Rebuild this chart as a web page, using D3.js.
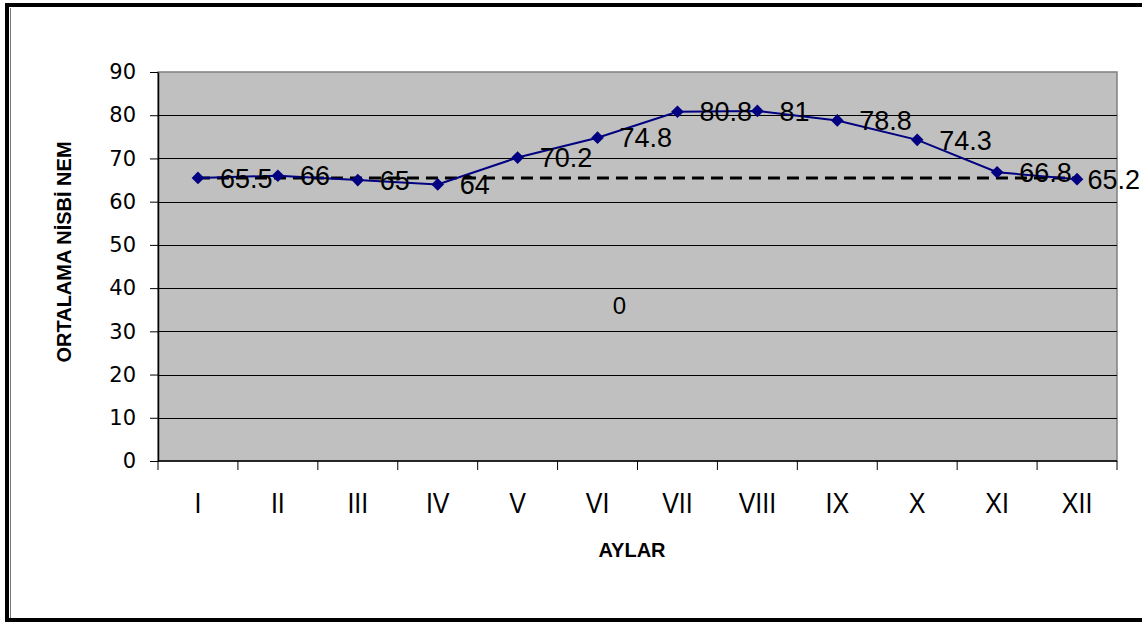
<!DOCTYPE html>
<html><head><meta charset="utf-8">
<script src="https://cdn.jsdelivr.net/npm/d3@7"></script>
<style>
html,body{margin:0;padding:0;background:#fff;}
svg{display:block;}
text{font-family:"Liberation Sans",Arial,sans-serif;}
</style></head>
<body>
<svg id="c" width="1142" height="622"></svg>
<script>
const months = ["I","II","III","IV","V","VI","VII","VIII","IX","X","XI","XII"];
const humidity = [65.5, 66, 65, 64, 70.2, 74.8, 80.8, 81, 78.8, 74.3, 66.8, 65.2];
const referenceLine = [65.5, 65.5, 65.5, 65.5, 65.5, 65.5, 65.5, 65.5, 65.5, 65.5, 65.5, 65.5];
const yTicks = [0, 10, 20, 30, 40, 50, 60, 70, 80, 90];
const xTitle = "AYLAR";
const yTitle = "ORTALAMA NİSBİ NEM";
const strayLabel = {month: "VI", value: 36, text: "0"};

const svg = d3.select("#c");
const W = 1142, H = 622;
const m = {left: 158, right: 25, top: 72, bottom: 161};
const pw = W - m.left - m.right, ph = H - m.top - m.bottom;

// outer frame
svg.append("rect").attr("x", 7).attr("y", 5).attr("width", W + 10).attr("height", 615)
  .attr("fill", "#fff").attr("stroke", "#000").attr("stroke-width", 4);
svg.append("line").attr("x1", 10.5).attr("x2", 10.5).attr("y1", 8).attr("y2", 618)
  .attr("stroke", "#777").attr("stroke-width", 1);

const x = d3.scaleBand().domain(months).range([m.left, m.left + pw]).padding(0);
const y = d3.scaleLinear().domain([0, 90]).range([m.top + ph, m.top]);
const cx = d => x(d) + x.bandwidth() / 2;

// plot area
svg.append("rect").attr("x", m.left).attr("y", m.top).attr("width", pw).attr("height", ph)
  .attr("fill", "#c0c0c0").attr("stroke", "#808080").attr("stroke-width", 1.5);

// gridlines
svg.append("g").selectAll("line").data(yTicks.filter(d => d > 0 && d < 90)).join("line")
  .attr("x1", m.left).attr("x2", m.left + pw)
  .attr("y1", d => Math.round(y(d)) + 0.5).attr("y2", d => Math.round(y(d)) + 0.5)
  .attr("stroke", "#000").attr("stroke-width", 1);

// y axis
const yAxis = svg.append("g").attr("transform", `translate(${m.left},0)`)
  .call(d3.axisLeft(y).tickValues(yTicks).tickSize(8).tickPadding(14).tickSizeOuter(0));
yAxis.select(".domain").attr("stroke", "#000").attr("stroke-width", 1.5);
yAxis.selectAll(".tick line").attr("stroke", "#000");
yAxis.selectAll(".tick text").attr("fill", "#000")
  .style("font-family", "'DejaVu Sans', sans-serif").style("font-size", "21px");

// x axis with ticks at category boundaries
const xg = svg.append("g").attr("transform", `translate(0,${m.top + ph})`);
xg.append("line").attr("x1", m.left).attr("x2", m.left + pw).attr("stroke", "#000").attr("stroke-width", 1.5);
const bounds = months.map(d => x(d)).concat([m.left + pw]);
xg.selectAll("line.tk").data(bounds).join("line").attr("class", "tk")
  .attr("x1", d => d).attr("x2", d => d).attr("y1", 0).attr("y2", 9)
  .attr("stroke", "#000").attr("stroke-width", 1);
xg.selectAll("text").data(months).join("text")
  .attr("transform", d => `translate(${cx(d)},52) scale(1,1.15)`)
  .attr("text-anchor", "middle").style("font-size", "25px").attr("fill", "#000")
  .text(d => d);

// reference dashed line
svg.append("path").datum(referenceLine)
  .attr("d", d3.line().x((d, i) => cx(months[i])).y(d => y(d)))
  .attr("fill", "none").attr("stroke", "#000").attr("stroke-width", 3)
  .attr("stroke-dasharray", "12,7");

// main series
svg.append("path").datum(humidity)
  .attr("d", d3.line().x((d, i) => cx(months[i])).y(d => y(d)))
  .attr("fill", "none").attr("stroke", "#000080").attr("stroke-width", 2);

svg.append("g").selectAll("path").data(humidity).join("path")
  .attr("d", d3.symbol(d3.symbolSquare, 80))
  .attr("transform", (d, i) => `translate(${cx(months[i])},${y(d)}) rotate(45)`)
  .attr("fill", "#000080");

// data labels (kept inside the picture like the source does)
svg.append("g").selectAll("text").data(humidity).join("text")
  .attr("x", (d, i) => cx(months[i]) + 22).attr("y", d => y(d))
  .attr("dy", "0.36em").style("font-size", "27px").attr("fill", "#000")
  .text(d => d)
  .each(function() {
    const t = d3.select(this);
    const w = this.getComputedTextLength();
    const x0 = +t.attr("x");
    if (x0 + w > W - 2) t.attr("x", W - 2 - w);
  });

// stray label
svg.append("text").attr("x", cx(strayLabel.month) + 22).attr("y", y(strayLabel.value))
  .attr("dy", "0.36em").attr("text-anchor", "middle").style("font-size", "24px")
  .text(strayLabel.text);

// axis titles
svg.append("text").attr("x", 632).attr("y", 557).attr("text-anchor", "middle")
  .style("font-size", "20px").style("font-weight", "bold").text(xTitle);
svg.append("text").attr("transform", `translate(71,252) rotate(-90)`).attr("text-anchor", "middle")
  .style("font-size", "20px").style("font-weight", "bold").text(yTitle);
</script>
</body></html>
